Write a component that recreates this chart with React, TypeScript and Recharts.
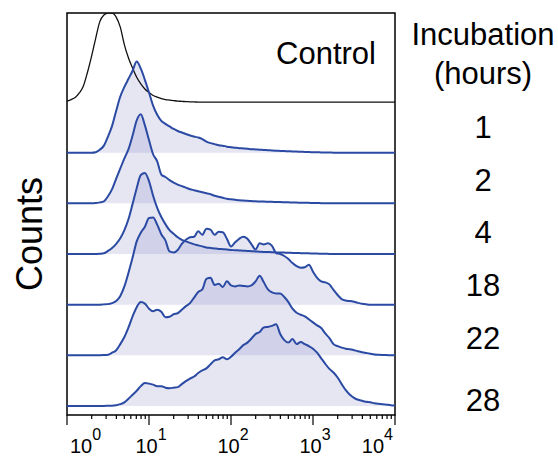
import { ComposedChart, Area, Line, XAxis, YAxis, ReferenceArea } from "recharts";

// log10 of fluorescence intensity at each histogram channel
const logStops = [
  0, 0.05, 0.1, 0.15, 0.2, 0.25, 0.3, 0.35, 0.4, 0.45,
  0.5, 0.55, 0.6, 0.65, 0.7, 0.75, 0.8, 0.85, 0.9, 0.95,
  1, 1.05, 1.1, 1.15, 1.2, 1.25, 1.3, 1.35, 1.4, 1.45,
  1.5, 1.55, 1.6, 1.65, 1.7, 1.75, 1.8, 1.85, 1.9, 1.95,
  2, 2.05, 2.1, 2.15, 2.2, 2.25, 2.3, 2.35, 2.4, 2.45,
  2.5, 2.55, 2.6, 2.65, 2.7, 2.75, 2.8, 2.85, 2.9, 2.95,
  3, 3.05, 3.1, 3.15, 3.2, 3.25, 3.3, 3.35, 3.4, 3.45,
  3.5, 3.55, 3.6, 3.65, 3.7, 3.75, 3.8, 3.85, 3.9, 3.95,
  4,
];

// counts per channel
const control = [
  2, 5, 9, 18, 32, 59, 91, 126, 159, 172,
  176, 176, 168, 148, 113, 87, 67, 49, 36, 26,
  19, 13, 10, 7, 5, 4, 3, 2, 1.5, 1,
  0.5, 0.3, 0, 0, 0, 0, 0, 0, 0, 0,
  0, 0, 0, 0, 0, 0, 0, 0, 0, 0,
  0, 0, 0, 0, 0, 0, 0, 0, 0, 0,
  0, 0, 0, 0, 0, 0, 0, 0, 0, 0,
  0, 0, 0, 0, 0, 0, 0, 0, 0, 0,
  0,
];
const h1 = [
  0, 0, 0, 0, 0, 0, 0, 1, 6, 14,
  32, 53, 83, 111, 130, 146, 162, 180, 166, 144,
  119, 93, 75, 63, 57, 52, 47, 43, 40, 37,
  34, 32, 30, 27, 22, 19, 17, 15, 14, 12,
  11, 10, 9, 8.5, 8, 7, 6.5, 6, 5.5, 5,
  4.5, 4, 3.6, 3.2, 2.9, 2.6, 2.3, 2, 1.7, 1.4,
  1.1, 0.9, 0.7, 0.5, 0.3, 0.2, 0, 0, 0, 0,
  0, 0, 0, 0, 0, 0, 0, 0, 0, 0,
  0,
];
const h2 = [
  0, 0, 0, 0, 0, 0, 0, 0.6, 2, 4,
  14, 28, 49, 69, 89, 107, 134, 164, 176, 154,
  125, 97, 83, 57, 52, 46, 41, 37, 34, 31,
  28, 26, 24, 22, 20, 18, 15, 13, 11, 9,
  8, 7, 6, 5.5, 5, 4.5, 4, 3.8, 3.5, 3.2,
  3, 2.8, 2.5, 2.2, 2, 1.8, 1.5, 1.3, 1.1, 1,
  0.8, 0.6, 0.4, 0.2, 0, 0, 0, 0, 0, 0,
  0, 0, 0, 0, 0, 0, 0, 0, 0, 0,
  0,
];
const h4 = [
  0, 0, 0, 0, 0, 0, 0, 0, 0.5, 1.4,
  6, 12, 20, 31, 47, 69, 99, 130, 156, 160,
  144, 115, 91, 73, 59, 47, 40, 33, 28, 25,
  22, 19, 17, 15, 13, 12, 11, 10, 9.5, 9,
  8, 7.5, 7, 6.5, 6, 5.5, 5, 4.5, 4, 3.8,
  3.5, 3.2, 3, 2.8, 2.5, 2.2, 2, 1.7, 1.5, 1.3,
  1, 0.8, 0.6, 0.4, 0.2, 0, 0, 0, 0, 0,
  0, 0, 0, 0, 0, 0, 0, 0, 0, 0,
  0,
];
const h18 = [
  0, 0, 0, 0, 0, 0, 0, 0, 0, 0.5,
  1, 3, 7, 17, 36, 63, 93, 125, 142, 154,
  171, 172, 158, 139, 127, 105, 103, 108, 120, 128,
  133, 134, 145, 138, 150, 148, 138, 144, 143, 130,
  115, 123, 130, 134, 130, 119, 109, 121, 119, 121,
  116, 102, 100, 96, 90, 82, 76, 73, 74, 79,
  65, 53, 46, 44, 40, 29, 19, 11, 8, 7,
  5.5, 3.5, 1.6, 0.6, 0, 0, 0, 0, 0, 0,
  0,
];
const h22 = [
  0, 0, 0, 0, 0, 0, 0, 0, 0, 0.3,
  1, 5, 10, 22, 36, 55, 77, 95, 105, 102,
  92, 87, 90, 86, 75, 76, 81, 83, 90, 97,
  103, 114, 125, 130, 151, 153, 139, 141, 135, 146,
  138, 136, 138, 137, 136, 138, 146, 157, 144, 130,
  124, 122, 122, 115, 105, 92, 84, 80, 77, 71,
  65, 59, 54, 43, 34, 22, 18, 15, 13, 12,
  10, 8, 6, 4.5, 3, 1.6, 1, 0.6, 0.3, 0,
  0,
];
const h28 = [
  0, 0, 0, 0, 0, 0, 0, 0, 0, 0,
  0.3, 0.4, 1.4, 3.4, 7, 14, 22, 30, 39, 45,
  44, 42, 39, 39, 36, 35, 36, 37, 43, 49,
  54, 58, 65, 70, 74, 82, 90, 92, 96, 92,
  97, 105, 112, 120, 125, 133, 142, 146, 155, 156,
  158, 161, 142, 130, 125, 132, 122, 126, 122, 118,
  113, 105, 94, 83, 73, 66, 56, 43, 31, 22,
  16, 12, 10, 8, 7, 5, 4, 3.4, 2.4, 1.4,
  0.8,
];

const incubationLabels = ["1", "2", "4", "18", "22", "28"];
const majorExponents = [0, 1, 2, 3, 4];
const minorMultipliers = [2, 3, 4, 5, 6, 7, 8, 9];

const series = [
  { key: "control", values: control },
  { key: "h1", values: h1 },
  { key: "h2", values: h2 },
  { key: "h4", values: h4 },
  { key: "h18", values: h18 },
  { key: "h22", values: h22 },
  { key: "h28", values: h28 },
];

const ROW_SHIFT = 100;
const BLUE = "#2a4aa3";
const FONT = "'Liberation Sans', Arial, Helvetica, sans-serif";

const table = logStops.map((e, i) => {
  const row: any = { x: Math.pow(10, e) };
  series.forEach((s) => {
    row[s.key] = s.values[i];
  });
  return row;
});

const ticks: number[] = [];
majorExponents.forEach((n) => {
  ticks.push(Math.pow(10, n));
  if (n < 4) minorMultipliers.forEach((m) => ticks.push(m * Math.pow(10, n)));
});

const LogTick = (props: any) => {
  const { x, y, payload } = props;
  const exp = Math.log10(payload.value);
  const isMajor = Math.abs(exp - Math.round(exp)) < 1e-6;
  const n = Math.round(exp);
  let anchor = "middle";
  let tx = x + 2;
  if (isMajor && n === 0) {
    anchor = "start";
    tx = x + 3;
  } else if (isMajor && n === 4) {
    anchor = "end";
    tx = x - 2;
  }
  return (
    <g>
      <line x1={x} x2={x} y1={y} y2={y + (isMajor ? 10 : 4)} stroke="#000" strokeWidth={1.2} />
      {isMajor && (
        <text x={tx} y={y + 38} textAnchor={anchor} fontSize={20} fontFamily={FONT} fill="#000">
          10
          <tspan dy={-13} fontSize={16}>
            {n}
          </tspan>
        </text>
      )}
    </g>
  );
};

export default function App() {
  const n = series.length;
  return (
    <div style={{ position: "absolute", left: 0, top: 0, width: 558, height: 457, background: "#fff" }}>
      <ComposedChart
        width={558}
        height={457}
        data={table}
        margin={{ top: 13, right: 163, left: 67, bottom: 0 }}
      >
        <XAxis
          dataKey="x"
          type="number"
          scale="log"
          domain={[1, 10000]}
          allowDataOverflow
          ticks={ticks}
          interval={0}
          tickLine={false}
          axisLine={false}
          tickSize={0}
          tickMargin={0}
          height={42}
          tick={<LogTick />}
        />
        <YAxis hide type="number" domain={[-18, 776]} allowDataOverflow />
        {series.slice(1).map((s, idx) => {
          const off = (n - 2 - idx) * ROW_SHIFT;
          return (
            <Area
              key={"a" + s.key}
              type="monotone"
              dataKey={(d: any) => [off, off + d[s.key]]}
              stroke="none"
              fill="#7878c0"
              fillOpacity={0.19}
              isAnimationActive={false}
              activeDot={false}
            />
          );
        })}
        {series.map((s, idx) => {
          const off = (n - 1 - idx) * ROW_SHIFT;
          const isControl = idx === 0;
          return (
            <Line
              key={"l" + s.key}
              type="monotone"
              dataKey={(d: any) => off + d[s.key]}
              stroke={isControl ? "#111" : BLUE}
              strokeWidth={isControl ? 1.3 : 2}
              dot={false}
              activeDot={false}
              isAnimationActive={false}
            />
          );
        })}
        <ReferenceArea
          x1={1}
          x2={10000}
          y1={-18}
          y2={776}
          fill="none"
          stroke="#000"
          strokeWidth={1.5}
          ifOverflow="visible"
        />
      </ComposedChart>
      <svg
        width={558}
        height={457}
        style={{ position: "absolute", left: 0, top: 0, pointerEvents: "none" }}
        fontFamily={FONT}
      >
        <text x={326} y={64} textAnchor="middle" fontSize={31}>
          Control
        </text>
        <text x={483} y={45} textAnchor="middle" fontSize={31}>
          Incubation
        </text>
        <text x={483} y={84} textAnchor="middle" fontSize={31}>
          (hours)
        </text>
        {incubationLabels.map((t, i) => (
          <text key={t} x={483} y={[138, 191, 243, 296, 349, 411][i]} textAnchor="middle" fontSize={31}>
            {t}
          </text>
        ))}
        <text x={42} y={234} textAnchor="middle" fontSize={36} transform="rotate(-90 42 234)">
          Counts
        </text>
      </svg>
    </div>
  );
}
